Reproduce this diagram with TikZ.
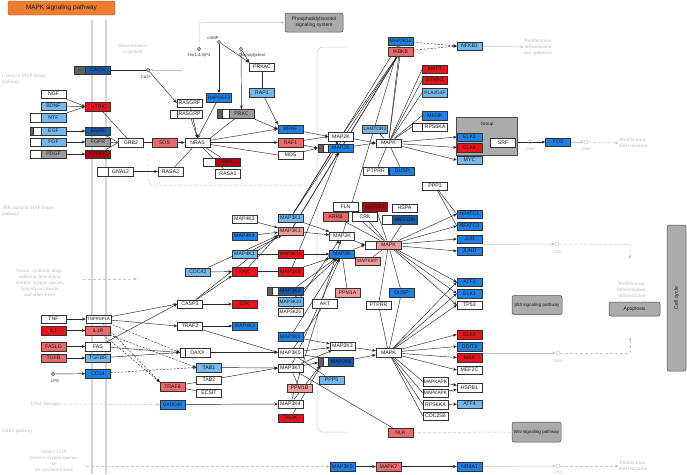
\documentclass[tikz,border=0pt]{standalone}
\usepackage{fontspec}
\newfontfamily\gf{Liberation Sans}
\newfontfamily\gser{Liberation Serif}
\usetikzlibrary{arrows.meta}
\pgfdeclarelayer{back}
\pgfdeclarelayer{edges}
\pgfsetlayers{back,edges,main}
\definecolor{kR}{HTML}{E8131B}
\definecolor{kDR}{HTML}{B00510}
\definecolor{kS}{HTML}{EE6A6A}
\definecolor{kP}{HTML}{F29A9A}
\definecolor{kB}{HTML}{1D80E6}
\definecolor{kDB}{HTML}{1B58A6}
\definecolor{kLB}{HTML}{74B8EE}
\definecolor{kG}{HTML}{9C9C9C}
\definecolor{kBar}{HTML}{606060}
\definecolor{kOr}{HTML}{EE7D31}
\tikzset{
 gbox/.style={draw=black!80, line width=0.45pt, minimum width=25pt, minimum height=8.5pt, inner sep=0pt, font=\gf\fontsize{5.2}{5.5}\selectfont, text=black!90},
 gW/.style={gbox, fill=white},
 gR/.style={gbox, fill=kR},
 gDR/.style={gbox, fill=kDR},
 gS/.style={gbox, fill=kS},
 gP/.style={gbox, fill=kP},
 gB/.style={gbox, fill=kB},
 gDB/.style={gbox, fill=kDB},
 gLB/.style={gbox, fill=kLB},
 gG/.style={gbox, fill=kG},
 sub/.style={draw=black!80, line width=0.45pt, minimum height=8.5pt, inner sep=0pt, minimum width=#1, fill=white},
 dbar/.style={draw=black!80, line width=0.45pt, minimum height=8.5pt, inner sep=0pt, minimum width=#1, fill=kBar},
 cpd/.style={circle, draw=black!65, fill=black!30, minimum size=3.6pt, inner sep=0pt, line width=0.4pt},
 dnac/.style={circle, draw=black!25, minimum size=4pt, inner sep=0pt, line width=0.4pt},
 ctxt/.style={font=\gf\fontsize{4.2}{4.5}\selectfont, text=black!80, inner sep=0pt},
 ftxt/.style={font=\gser\fontsize{5}{6}\selectfont, text=black!28, align=center, inner sep=0pt},
 mapbox/.style={draw=black!70, fill=black!33, rounded corners=2pt, font=\gf\fontsize{5}{6}\selectfont, text=black!90, align=center, inner sep=1pt, line width=0.5pt},
 ar/.style={-{Stealth[length=3.6pt,width=3pt]}, draw=black!85, line width=0.45pt},
 ln/.style={draw=black!85, line width=0.45pt},
 dar/.style={ar, dash pattern=on 2pt off 1.5pt},
 far/.style={-{Stealth[length=3.6pt,width=3pt]}, draw=black!22, line width=0.5pt},
 fln/.style={draw=black!22, line width=0.5pt},
 fdash/.style={fln, dash pattern=on 3pt off 2pt},
 tight/.style={font=\gf\fontsize{4.8}{5}\selectfont},
}
\begin{document}
\begin{tikzpicture}[x=1pt,y=-1pt]
\useasboundingbox (0,0) rectangle (687,474);
\begin{pgfonlayer}{back}
\fill[white] (0,0) rectangle (687,474);
\draw[black!17, line width=2.6pt] (92,20) -- (92,474);
\draw[black!17, line width=2.6pt] (106,20) -- (106,474);
\end{pgfonlayer}

% title and map boxes
\node[fill=kOr, draw=kOr!70!black, rounded corners=1.5pt, minimum width=107pt, minimum height=14pt, inner sep=0pt, font=\gf\fontsize{6.4}{7}\selectfont, text=black!90] (title) at (61.5,8) {MAPK signaling pathway};
\node[mapbox, minimum width=58pt, minimum height=19pt] (pis) at (314,22.5) {Phosphatidylinositol\\signaling system};
\node[mapbox, minimum width=50pt, minimum height=19pt, font=\gf\fontsize{4.5}{5}\selectfont] (p53) at (537,305) {p53 signaling pathway};
\node[mapbox, minimum width=51pt, minimum height=14pt] (apop) at (634.5,309) {Apoptosis};
\node[mapbox, minimum width=19pt, minimum height=146pt] (ccyc) at (676.5,298) {};
\node[rotate=90, font=\gf\fontsize{5.2}{5.5}\selectfont, text=black!90] (cctext) at (676.5,298) {Cell cycle};
\node[mapbox, minimum width=49pt, minimum height=20pt, font=\gf\fontsize{4.5}{5}\selectfont] (wnt) at (536.5,432) {Wnt signaling pathway};

% faint texts
\node[ftxt] (hetg) at (133,49) {Heterotrimeric\\G-protein};
\node[ftxt, anchor=west, align=left] (cmk) at (2,79) {Classical MAP kinase\\pathway};
\node[ftxt, anchor=west, align=left] (jnk) at (2,211) {JNK and p38 MAP kinase\\pathway};
\node[ftxt] (stress) at (40,283) {Serum, cytotoxic drugs,\\radiation, heat shock,\\reactive oxygen species,\\lipopolysaccharide,\\and other stress};
\node[ftxt] (dnad) at (45,404) {DNA damage};
\node[ftxt, anchor=west] (erk5) at (2,431) {ERK5 pathway};
\node[ftxt] (serum) at (54,461) {Serum, EGF,\\reactive oxygen species,\\or\\Src tyrosine kinase};
\node[ftxt] (pr1) at (538,47) {Proliferation,\\inflammation\\anti-apoptosis};
\node[ftxt] (pr2) at (633,143) {Proliferation,\\differentiation};
\node[ftxt] (pr3) at (632,290) {Proliferation,\\differentiation,\\inflammation};
\node[ftxt] (pr4) at (633,466) {Proliferation,\\differentiation};

% compounds
\node[cpd] (ca) at (148,70) {};
\node[ctxt] (catx) at (146,77.5) {Ca2+};
\node[cpd] (ins) at (199,49) {};
\node[ctxt] (instx) at (199,55.5) {Ins(1,4,5)P3};
\node[cpd] (camp) at (219,42) {};
\node[ctxt] (camptx) at (213,38.5) {cAMP};
\node[cpd] (dag) at (241,49) {};
\node[ctxt] (dagtx) at (252,55.5) {Diacylglycerol};
\node[cpd] (lps) at (53,374) {};
\node[ctxt] (lpstx) at (55,381) {LPS};
\node[dnac] (dna1) at (530,142) {};
\node[ctxt, text=black!25] (dna1t) at (530,149.5) {DNA};
\node[dnac] (dna2) at (586,142) {};
\node[ctxt, text=black!25] (dna2t) at (586,149.5) {DNA};
\node[dnac] (dna3) at (557,244) {};
\node[ctxt, text=black!25] (dna3t) at (557,252) {DNA};
\node[dnac] (dna4) at (558,353) {};
\node[ctxt, text=black!25] (dna4t) at (558,361) {DNA};
\node[dnac] (dna5) at (558,466) {};
\node[ctxt, text=black!25] (dna5t) at (558,472) {DNA};

% ---- classical MAPK
\node[dbar=11pt] (cacnL) at (79.5,70) {};
\node[gDB] (cacn) at (97.5,70) {CACN};
\node[gW] (ngf) at (53.5,94) {NGF};
\node[gLB] (bdnf) at (53.5,106) {BDNF};
\node[sub=11pt] (ntfL) at (35.5,117.5) {};
\node[gLB] (ntf) at (53.5,117.5) {NTF};
\node[gR] (ntrk) at (98,106.5) {NTRK};
\node[sub=11pt] (egfL) at (35.5,131) {};
\node[dbar=3.5pt] (egfB) at (31.75,131) {};
\node[gLB] (egf) at (53.5,131) {EGF};
\node[gDB] (egfr) at (98,131) {EGFR};
\node[sub=11pt] (fgfL) at (35.5,142) {};
\node[gLB] (fgf) at (53.5,142) {FGF};
\node[gG] (fgfr) at (98,142) {FGFR};
\node[sub=11pt] (pdgfL) at (35.5,154) {};
\node[gG] (pdgf) at (53.5,154) {PDGF};
\node[gDR] (pdgfr) at (98,154) {PDGFR};
\node[gW] (grb2) at (131,142.5) {GRB2};
\node[gS] (sos) at (164.5,142.5) {SOS};
\node[sub=11pt] (gnaL) at (102.5,171.5) {};
\node[gW] (gna12) at (120.5,171.5) {GNA12};
\node[gW] (rasa2) at (170.5,171.5) {RASA2};
\node[gW] (rasgrf) at (189.5,103) {RASGRF};
\node[sub=7pt] (rasgrpL) at (173.5,114) {};
\node[gW] (rasgrp) at (189.5,114) {RASGRP};
\node[gB, tight] (rapgef2) at (219,97.5) {RAPGEF2};
\node[sub=12pt] (prkcL) at (223,113.5) {};
\node[dbar=5pt] (prkcB) at (219.5,113.5) {};
\node[gG] (prkc) at (241.5,113.5) {PRKC};
\node[gW] (prkac) at (262,67) {PRKAC};
\node[gLB] (rap1) at (262,92.5) {RAP1};
\node[gW] (nras) at (197.5,142.5) {NRAS};
\node[sub=12.5pt] (nf1L) at (209.25,162) {};
\node[gDR] (nf1) at (228,162) {NF1};
\node[gW] (rasa1) at (228,173.5) {RASA1};
\node[gB] (braf) at (290.5,129) {BRAF};
\node[gS] (raf1) at (290.5,142.5) {RAF1};
\node[gW] (mos) at (290.5,155) {MOS};
\node[gW] (map2ka) at (341,136.5) {MAP2K};
\node[sub=10.5pt] (map2kbL) at (323.25,148) {};
\node[dbar=5pt] (map2kbB) at (320.5,148) {};
\node[gB] (map2kb) at (341,148) {MAP2K};
\node[gLB, tight] (lamtor3) at (375,129) {LAMTOR3};
\node[gW] (mapk1) at (388.5,143) {MAPK};
\node[gB, tight] (map3k14) at (400.5,41) {MAP3K14};
\node[gS] (ikbkb) at (400.5,51.5) {IKBKB};
\node[gLB] (nfkb1) at (469.5,46) {NFKB1};
\node[gR] (mapt) at (435,69) {MAPT};
\node[gR] (stmn1) at (435,80) {STMN1};
\node[gLB, tight] (pla2g4) at (435,92.5) {PLA2G4F};
\node[gB] (mknk) at (435,115.5) {MKNK};
\node[sub=11pt] (rps6kaL) at (417.5,127) {};
\node[gW] (rps6ka) at (435,127) {RPS6KA};
\node[draw=black!70, fill=black!33, line width=0.5pt, minimum width=61pt, minimum height=38pt, inner sep=0pt, anchor=north west] (grp) at (456,117) {};
\node[font=\gf\fontsize{4.6}{5}\selectfont, text=black!90] (grplab) at (487,124) {Group};
\node[gB] (elk1a) at (469.5,137) {ELK1};
\node[gR] (elk4a) at (469.5,147.5) {ELK4};
\node[gW] (srf) at (503,142.5) {SRF};
\node[gLB] (myc) at (469.5,160) {MYC};
\node[gB] (fos) at (558,142) {FOS};
\node[gW] (ptprr1) at (376,171) {PTPRR};
\node[gB] (dusp1) at (402,171) {DUSP};
\node[gW] (ppp3) at (435,186) {PPP3};

% ---- JNK / p38
\node[gW] (map4k3) at (244.5,219) {MAP4K3};
\node[gLB] (map3k1a) at (290.5,218) {MAP3K1};
\node[gB] (map4k4) at (244.5,236) {MAP4K4};
\node[gP] (map3k1b) at (290.5,231) {MAP3K1};
\node[gLB] (map4k1) at (244.5,254) {MAP4K1};
\node[gR, tight] (map3k11) at (290.5,254) {MAP3K11};
\node[gLB] (cdc42) at (198,272) {CDC42};
\node[gR] (pak) at (244.5,271.5) {PAK};
\node[gR] (map3k6) at (290.5,271.5) {MAP3K6};
\node[gW] (casp3) at (190,304) {CASP3};
\node[gR] (stk) at (244.5,304) {STK};
\node[sub=11pt] (map3k2L) at (272.5,291) {};
\node[dbar=5pt] (map3k2B) at (269.5,291) {};
\node[gDB] (map3k2) at (290.5,291) {MAP3K2};
\node[gLB, tight] (map3k10) at (290.5,301.5) {MAP3K10};
\node[gW, tight] (map3k20) at (290.5,312) {MAP3K20};
\node[gW] (akt) at (325,303.5) {AKT};
\node[gW] (fln) at (345.5,206.5) {FLN};
\node[gDR] (mapkx) at (375,206.5) {MAP3K1};
\node[gW] (hspa) at (404.5,208) {HSPA};
\node[gS] (arrb) at (335.5,216.5) {ARRB};
\node[gW] (crk) at (365,216.5) {CRK};
\node[sub=11pt] (nfxL) at (387.5,219.5) {};
\node[gDB] (nfx) at (405,219.5) {MECOM};
\node[gW] (map2kc) at (342,236) {MAP2K};
\node[sub=11pt] (mapk2L) at (370.5,245) {};
\node[gP] (mapk2) at (388.5,245) {MAPK};
\node[gB] (map2kd) at (342,254) {MAP2K};
\node[gP, tight] (mapk8ip) at (367.5,261) {MAPK8IP};
\node[gB] (nfatc1) at (469.5,214) {NFATC1};
\node[gB] (nfatc3) at (469.5,226) {NFATC3};
\node[gB] (jun) at (469.5,239) {JUN};
\node[gB] (jund) at (469.5,251) {JUND};
\node[gP] (ppm1a) at (347.5,292.5) {PPM1A};
\node[gB] (dusp2) at (401.5,292.5) {DUSP};
\node[gW] (ptprr2) at (378.5,305) {PTPRR};
\node[gB] (atf2) at (469.5,282) {ATF2};
\node[gB] (elk1b) at (469.5,293.5) {ELK1};
\node[gW] (tp53) at (469.5,305) {TP53};

% ---- receptors bottom
\node[gW] (tnf) at (53.5,319) {TNF};
\node[gW, font=\gf\fontsize{4.4}{5}\selectfont] (tnfr) at (98.5,319) {TNFRSF1A};
\node[gR] (il1) at (53.5,330.5) {IL1};
\node[gS] (il1r) at (98,330.5) {IL1R};
\node[gS] (faslg) at (53.5,346.5) {FASLG};
\node[gW] (fas) at (98,346.5) {FAS};
\node[gS] (tgfb) at (53.5,358) {TGFB};
\node[gLB] (tgfbr) at (98,358) {TGFBR};
\node[gB] (cd14) at (98,373.5) {CD14};
\node[gW] (traf2) at (190,326) {TRAF2};
\node[gB] (map4k2) at (245,326) {MAP4K2};
\node[gB] (map3k5b) at (290.5,336.5) {MAP3K1};
\node[sub=5pt] (daxxL) at (182.5,352.5) {};
\node[gW] (daxx) at (197.5,352.5) {DAXX};
\node[gW] (map3k5) at (290.5,352.5) {MAP3K5};
\node[gLB] (tab1) at (209,367.5) {TAB1};
\node[gW] (map3k7) at (290.5,368) {MAP3K7};
\node[gW] (tab2) at (209,380) {TAB2};
\node[gW] (ecsit) at (209,393) {ECSIT};
\node[gS] (traf6) at (172.5,386.5) {TRAF6};
\node[gB, tight] (gadd45) at (172.5,404.5) {GADD45};
\node[gW] (map3k4) at (290.5,404) {MAP3K4};
\node[gR] (taok) at (290.5,418) {TAOK};
\node[gP] (ppm1b) at (299.5,388) {PPM1B};
\node[gLB] (ppp5) at (331.5,380) {PPP5};
\node[gW] (map2k3) at (342.5,346) {MAP2K3};
\node[sub=10.5pt] (map2k6L) at (323.25,361.5) {};
\node[dbar=5pt] (map2k6B) at (320.5,361.5) {};
\node[gDB] (map2k6) at (341,361.5) {MAP2K6};
\node[gW] (mapk3) at (388.5,352.5) {MAPK};
\node[gR] (elk4b) at (469.5,334.5) {ELK4};
\node[gB] (ddit3) at (469.5,346.5) {DDIT3};
\node[gR] (max) at (469.5,357.5) {MAX};
\node[gW] (mef2c) at (469.5,370) {MEF2C};
\node[gW, tight] (mapkapk1) at (435.5,381.5) {MAPKAPK};
\node[gW] (hspb1) at (469.5,387.5) {HSPB1};
\node[gW, tight] (mapkapk2) at (435.5,393) {MAPKAPK};
\node[gLB] (atf4) at (469.5,404) {ATF4};
\node[gW] (rps6kab) at (435.5,404.5) {RPS6KA};
\node[gW] (cdc25b) at (435.5,416) {CDC25B};
\node[gS] (nlk) at (400.5,432.5) {NLK};
\node[gB] (map2k5) at (342.5,466.5) {MAP2K5};
\node[gS] (mapk7) at (388.5,466.5) {MAPK7};
\node[gB] (nr4a1) at (469.5,466.5) {NR4A1};

% named free ends
\coordinate (caIn) at (182,70);
\coordinate (j0) at (482,244.5);
\coordinate (j1) at (630,244.5);
\coordinate (j2) at (630,259);
\coordinate (m0) at (482,353);
\coordinate (m1) at (630,353);
\coordinate (m2) at (630,337);
\coordinate (s1) at (83,279);
\coordinate (s2) at (137,279);
\coordinate (se1) at (86,466.5);
\coordinate (fr0) at (317,47);
\coordinate (fr1) at (317,432);

\begin{pgfonlayer}{back}
\draw[far, rounded corners=3pt] (ins) |- (pis.west);
\draw[far] (caIn) -- (ca);
\draw[far] (nfkb1) -- (pr1.west);
\draw[far] (fos) -- (dna2);
\draw[far, dash pattern=on 3pt off 2pt] (dna2) -- (pr2.west);
\draw[far] (j0) -- (dna3);
\draw[far, dash pattern=on 3pt off 2pt] (dna3) -- (j1) -- (j2);
\draw[far] (m0) -- (dna4);
\draw[far, dash pattern=on 3pt off 2pt] (dna4) -- (m1) -- (m2);
\draw[far] (nr4a1) -- (dna5);
\draw[far, dash pattern=on 3pt off 2pt] (dna5) -- (pr4.west);
\draw[far, dash pattern=on 3pt off 2pt] (s1) -- (s2);
\draw[far, dash pattern=on 3pt off 2pt] (dnad) -- (gadd45);
\draw[far, dash pattern=on 3pt off 2pt] (se1) -- (map2k5);
\draw[fdash] (nlk) -- (wnt);
\draw[fln, rounded corners=6pt] ([xshift=30pt]fr0) -- (fr0) -- (fr1) -- ([xshift=30pt]fr1);
\draw[fdash, rounded corners=6pt] (317,185) -- (148,185) -- (148,150);
\end{pgfonlayer}

\begin{pgfonlayer}{edges}
% classical
\draw[ln] (cacn) -- (ca);
\draw[ar] (ca) -- (rasgrf.west);
\draw[ar] (ngf) -- (ntrk.west);
\draw[ar] (bdnf) -- (ntrk.west);
\draw[ar] (ntf) -- (ntrk.west);
\draw[ar] (egf) -- (egfr);
\draw[ar] (fgf) -- (fgfr);
\draw[ar] (pdgf) -- (pdgfr);
\draw[ln] (ntrk) -- (grb2);
\draw[ln] (egfr) -- (grb2.west);
\draw[ln] (fgfr) -- (grb2.west);
\draw[ln] (pdgfr) -- (grb2.west);
\draw[ln] (grb2) -- (sos);
\draw[ar] (sos) -- (nras);
\draw[ar] (rasgrf) -- (nras.north);
\draw[ar] (rasgrp) -- (nras.north);
\draw[ar] (rapgef2) -- (nras.north);
\draw[ln] (prkc) -- (nras.north east);
\draw[ar] (camp) -- (rapgef2);
\draw[ar] (camp) -- (prkac.north west);
\draw[ar] (dag) -- (prkac.north west);
\draw[ar] (dag) -- (prkc);
\draw[ln] (prkac) -- (rap1);
\draw[ar] (rap1) -- (braf.north west);
\draw[ar] (prkc) -- (braf.west);
\draw[ar] (nras) -- (braf.west);
\draw[ar] (nras) -- (raf1.west);
\draw[ln] (nras) -- (mos.west);
\draw[ln] (nf1) -- (nras);
\draw[ln] (rasa1) -- (nras);
\draw[ln] (rasa2) -- (nras);
\draw[ar] (gna12) -- (rasa2);
\draw[ar] (braf) -- (map2ka.west);
\draw[ar] (raf1) -- (map2ka.west);
\draw[ar] (raf1) -- (map2kbL.west);
\draw[ar] (mos) -- (map2kbL.west);
\draw[ar] (map2ka) -- (mapk1.west);
\draw[ar] (map2kb) -- (mapk1.west);
\draw[ln] (lamtor3) -- (mapk1);
\draw[dar] (map3k14) -- (nfkb1.west);
\draw[dar] (ikbkb) -- (nfkb1.west);
\draw[ln] (mapk1) -- (mapt.west);
\draw[ln] (mapk1) -- (stmn1.west);
\draw[ln] (mapk1) -- (pla2g4.west);
\draw[ln] (mapk1) -- (mknk.west);
\draw[ln] (mapk1) -- (rps6kaL.west);
\draw[ar] (mapk1) -- (elk1a.west);
\draw[ar] (mapk1) -- (elk4a.west);
\draw[ar] (mapk1) -- (myc.west);
\draw[ln] (elk1a) -- (srf);
\draw[ln] (elk4a) -- (srf);
\draw[ar] (grp.east |- fos.west) -- (fos.west);
\draw[ln] (ptprr1) -- (mapk1);
\draw[ln] (dusp1) -- (mapk1);
\draw[ln] (mapk1) -- (ikbkb);
\draw[ln] (mapk1) -- (map3k14);
\draw[ln] (ikbkb) -- (map2ka);
\draw[ln] (ikbkb) -- (map2kb);
\draw[ln] (map3k14) -- (map3k1a);
\draw[ln] (ikbkb) -- (map3k1a);
\draw[ln] (ikbkb) -- (map3k1b);
\draw[ln] (map3k14) -- (map2kc);
\draw[ar] (map3k1a) -- (map2ka);
\draw[ar] (map3k1b) -- (map2kb);
\draw[ar] (map3k6) -- (map2kb);
% JNK
\draw[ar] (map4k3) -- (map3k1b);
\draw[ar] (map4k4) -- (map3k1b);
\draw[ar] (map4k1) -- (map3k1b);
\draw[ln] (map4k1) -- (map3k11);
\draw[ar] (cdc42) -- (pak);
\draw[ar] (cdc42) -- (map3k1b.south west);
\draw[ln] (pak) -- (map3k6);
\draw[ar] (pak) -- (map3k1b.south west);
\draw[ar] (casp3) -- (pak.south west);
\draw[ar] (casp3) -- (stk);
\draw[ar] (casp3) -- (map3k1b.south west);
\draw[ar] (map3k1b) -- (map2kc);
\draw[ar] (map3k1a) -- (map2kc);
\draw[ar] (map3k11) -- (map2kd);
\draw[ar] (map3k6) -- (map2kd);
\draw[ar] (map3k2) -- (map2kd);
\draw[ar] (map3k10) -- (map2kd);
\draw[ar] (map3k20) -- (map2kc);
\draw[ar] (map2kc) -- (mapk2L.west);
\draw[ar] (map2kd) -- (mapk2L.west);
\draw[ln] (mapk8ip) -- (mapk2);
\draw[ln] (fln) -- (mapk2);
\draw[ln] (mapkx) -- (mapk2);
\draw[ln] (crk) -- (mapk2);
\draw[ln] (nfx) -- (mapk2);
\draw[ln] (arrb) -- (mapk2);
\draw[ar] (mapk2) -- (nfatc1.west);
\draw[ar] (mapk2) -- (nfatc3.west);
\draw[ar] (mapk2) -- (jun.west);
\draw[ar] (mapk2) -- (jund.west);
\draw[ar] (mapk2) -- (atf2.west);
\draw[ar] (mapk2) -- (elk1b.west);
\draw[ar] (mapk2) -- (tp53.west);
\draw[ln] (ppp3) -- (nfatc1.west);
\draw[ln] (ppp3) -- (nfatc3.west);
\draw[ln] (dusp2) -- (mapk2);
\draw[ln] (ptprr2) -- (mapk2);
\draw[ln] (dusp2) -- (mapk3);
\draw[ln] (ptprr2) -- (mapk3);
\draw[ln] (ppm1a) -- (map2kd);
\draw[ln] (akt) -- (map3k5);
% receptors
\draw[ar] (tnf) -- (tnfr);
\draw[ar] (il1) -- (il1r);
\draw[ar] (faslg) -- (fas);
\draw[ar] (tgfb) -- (tgfbr);
\draw[ar] (lps) -- (cd14);
\draw[ar] (tnfr) -- (casp3.west);
\draw[ar] (fas) -- (casp3.west);
\draw[ar] (tnfr) -- (traf2.west);
\draw[ar] (fas) -- (daxxL.west);
\draw[dar] (tnfr) -- (daxxL.west);
\draw[dar] (il1r) -- (traf6.north west);
\draw[dar] (tnfr) -- (traf6.north west);
\draw[ar] (tgfbr) -- (daxxL.west);
\draw[dar] (il1r) -- (tab1.west);
\draw[dar] (cd14) -- (tab1.west);
\draw[ar] (traf2) -- (map4k2);
\draw[ar] (traf2) -- (map3k5.west);
\draw[ar] (daxx) -- (map3k5.west);
\draw[ar] (tab1) -- (map3k7.west);
\draw[ar] (tab2) -- (map3k7.west);
\draw[ln] (traf6) -- (tab2);
\draw[ln] (traf6) -- (ecsit);
\draw[ar] (gadd45) -- (map3k4.west);
\draw[ln] (ppm1b) -- (map3k7);
\draw[ln] (ppp5) -- (map3k5);
\draw[ar] (map3k5b) -- (map2k3);
\draw[ar] (map3k5) -- (map2k3);
\draw[ar] (map3k5) -- (map2k6);
\draw[ar] (map3k7) -- (map2k6L);
\draw[ar] (map3k7) -- (map2k3);
\draw[ar] (map3k4) -- (map2k6L);
\draw[ar] (taok) -- (map2k6L);
\draw[ar] (map3k5b) -- (map2kd);
\draw[ar] (map3k7) -- (map2kd);
\draw[ar] (map3k4) -- (map2kc);
\draw[ar] (map2k3) -- (mapk3);
\draw[ar] (map2k6) -- (mapk3);
\draw[ln] (map3k7) -- (nlk);
\draw[ar] (mapk3) -- (elk4b.west);
\draw[ar] (mapk3) -- (ddit3.west);
\draw[ar] (mapk3) -- (max.west);
\draw[ar] (mapk3) -- (mef2c.west);
\draw[ar] (mapk3) -- (atf2.west);
\draw[ar] (mapk3) -- (elk1b.west);
\draw[ar] (mapk3) -- (tp53.west);
\draw[ln] (mapk3) -- (mapkapk1.west);
\draw[ln] (mapk3) -- (mapkapk2.west);
\draw[ln] (mapk3) -- (rps6kab.west);
\draw[ln] (mapk3) -- (cdc25b.west);
\draw[ar] (mapkapk1) -- (hspb1);
\draw[ar] (mapkapk2) -- (hspb1);
\draw[ar] (rps6kab) -- (atf4);
\draw[ar] (map2k5) -- (mapk7);
\draw[ar] (mapk7) -- (nr4a1);
\end{pgfonlayer}
\end{tikzpicture}
\end{document}
